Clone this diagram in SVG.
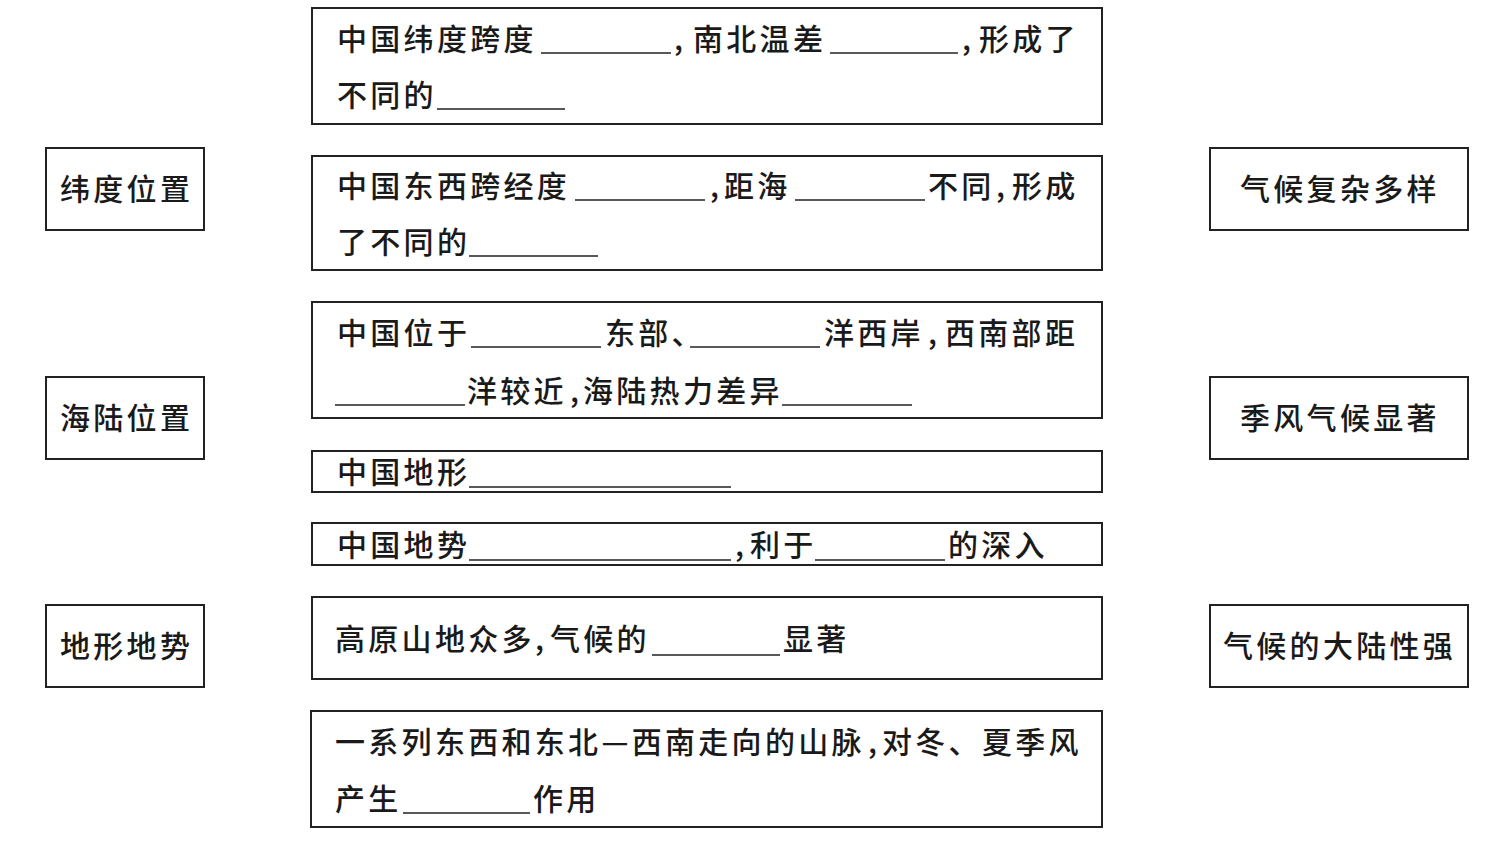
<svg xmlns="http://www.w3.org/2000/svg" width="1509" height="852" viewBox="0 0 1509 852">
<style>
.box{fill:#fff;stroke:#222;stroke-width:2}
text{font-family:"Noto Sans CJK SC","Noto Sans CJK JP",sans-serif;font-size:30px;font-weight:500;fill:#1a1a1a;letter-spacing:3.3px}
.c{letter-spacing:0}
.bl{stroke:#222;stroke-width:1.6}
</style>
<rect width="1509" height="852" fill="#fff"/>
<g id="connectors"></g>
<g id="left1"><rect class="box" x="46" y="148" width="158" height="82"/><text x="60" y="200">纬度位置</text></g>
<g id="left2"><rect class="box" x="46" y="377" width="158" height="82"/><text x="60" y="429">海陆位置</text></g>
<g id="left3"><rect class="box" x="46" y="605" width="158" height="82"/><text x="60" y="657">地形地势</text></g>
<g id="right1"><rect class="box" x="1210" y="148" width="258" height="82"/><text x="1240" y="200">气候复杂多样</text></g>
<g id="right2"><rect class="box" x="1210" y="377" width="258" height="82"/><text x="1240" y="429">季风气候显著</text></g>
<g id="right3"><rect class="box" x="1210" y="605" width="258" height="82"/><text x="1223" y="657">气候的大陆性强</text></g>
<g id="mid1"><rect class="box" x="312" y="8" width="790" height="116"/>
<text x="337" y="50">中国纬度跨度</text><line class="bl" x1="541" y1="53" x2="671" y2="53"/>
<text class="c" x="674" y="50">,</text><text x="693" y="50">南北温差</text><line class="bl" x1="830" y1="53" x2="958" y2="53"/>
<text class="c" x="962" y="50">,</text><text x="979" y="50">形成了</text>
<text x="337" y="106">不同的</text><line class="bl" x1="437" y1="109" x2="565" y2="109"/></g>
<g id="mid2"><rect class="box" x="312" y="156" width="790" height="114"/>
<text x="337" y="197">中国东西跨经度</text><line class="bl" x1="575" y1="200" x2="705" y2="200"/>
<text class="c" x="710" y="197">,</text><text x="724" y="197">距海</text><line class="bl" x1="795" y1="200" x2="925" y2="200"/>
<text x="928" y="197">不同</text><text class="c" x="996" y="197">,</text><text x="1012" y="197">形成</text>
<text x="337" y="253">了不同的</text><line class="bl" x1="469" y1="256" x2="598" y2="256"/></g>
<g id="mid3"><rect class="box" x="312" y="302" width="790" height="116"/>
<text x="337" y="344">中国位于</text><line class="bl" x1="471" y1="347" x2="601" y2="347"/>
<text x="605" y="344">东部、</text><line class="bl" x1="690" y1="347" x2="820" y2="347"/>
<text x="824" y="344">洋西岸</text><text class="c" x="928" y="344">,</text><text x="945" y="344">西南部距</text>
<line class="bl" x1="335" y1="405" x2="465" y2="405"/><text x="467" y="402">洋较近</text><text class="c" x="570" y="402">,</text>
<text x="583" y="402">海陆热力差异</text><line class="bl" x1="782" y1="405" x2="912" y2="405"/></g>
<g id="mid4"><rect class="box" x="312" y="451" width="790" height="41"/>
<text x="337" y="483">中国地形</text><line class="bl" x1="469" y1="487" x2="731" y2="487"/></g>
<g id="mid5"><rect class="box" x="312" y="523" width="790" height="42"/>
<text x="337" y="556">中国地势</text><line class="bl" x1="469" y1="560" x2="731" y2="560"/>
<text class="c" x="735" y="556">,</text><text x="750" y="556">利于</text><line class="bl" x1="815" y1="560" x2="945" y2="560"/>
<text x="948" y="556">的深入</text></g>
<g id="mid6"><rect class="box" x="312" y="597" width="790" height="82"/>
<text x="335" y="650">高原山地众多</text><text class="c" x="535" y="650">,</text><text x="550" y="650">气候的</text>
<line class="bl" x1="652" y1="655" x2="780" y2="655"/><text x="783" y="650">显著</text></g>
<g id="mid7"><rect class="box" x="311" y="711" width="791" height="116"/>
<text x="335" y="753">一系列东西和东北—西南走向的山脉</text><text class="c" x="868" y="753">,</text><text x="882" y="753">对冬、夏季风</text>
<text x="335" y="810">产生</text><line class="bl" x1="403" y1="813" x2="530" y2="813"/><text x="533" y="810">作用</text></g>
</svg>
